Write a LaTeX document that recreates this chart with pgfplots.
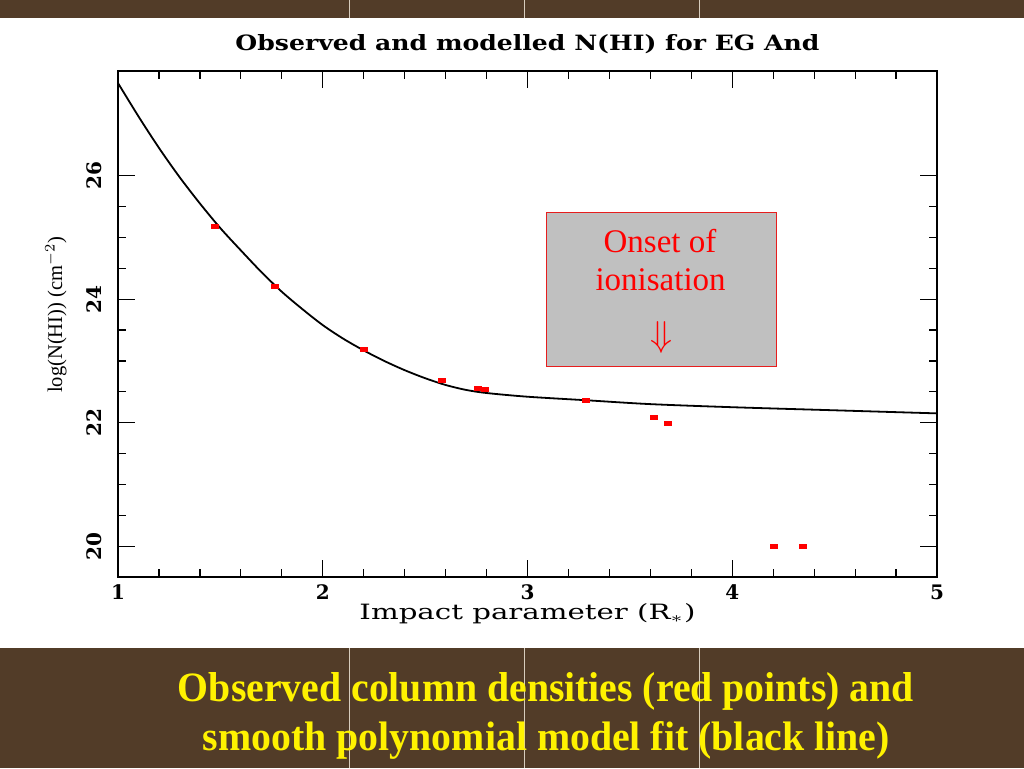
\documentclass[border=0pt]{standalone}
\usepackage{fontspec}
\setmainfont{Liberation Serif}
\newfontfamily\pgfont{DejaVu Serif}
\usepackage{graphicx}
\usepackage{pgfplots}
\pgfplotsset{compat=1.18}
\definecolor{marble}{RGB}{82,60,40}
\definecolor{marbleline}{RGB}{215,205,190}
\definecolor{boxgrey}{RGB}{192,192,192}
\definecolor{boxred}{RGB}{230,30,30}
\pgfdeclareplotmark{rect}{\pgfpathrectangle{\pgfpoint{-2pt}{-1.25pt}}{\pgfpoint{4pt}{2.5pt}}\pgfusepathqfill}
\begin{document}
\begin{tikzpicture}[x=1pt,y=1pt]
\useasboundingbox (0,0) rectangle (512,384);
\fill[white] (0,0) rectangle (512,384);
\fill[marble] (0,375) rectangle (512,384);
\fill[marble] (0,0) rectangle (512,60);
\draw[marbleline, line width=0.5pt] (174.5,0)--(174.5,60) (262,0)--(262,60) (349.5,0)--(349.5,60)
  (174.5,375)--(174.5,384) (262,375)--(262,384) (349.5,375)--(349.5,384);
\begin{axis}[
  at={(59pt,95.5pt)}, anchor=south west,
  scale only axis, width=409.5pt, height=253.15pt,
  xmin=1, xmax=5, ymin=19.5, ymax=27.7,
  xtick={1,2,3,4,5}, minor x tick num=4,
  ytick={20,22,24,26}, minor y tick num=3,
  tick align=inside, xtick pos=both, ytick pos=both,
  major tick length=8.5pt, minor tick length=4pt,
  axis line style={line width=0.8pt},
  every tick/.style={black, line width=0.6pt},
  /pgf/number format/assume math mode=true,
  tick label style={font=\pgfont\bfseries\fontsize{10}{11}\selectfont},
  xticklabel style={anchor=center, yshift=-7.5pt},
  yticklabel style={anchor=center, xshift=-12pt, rotate=90},
  title={\resizebox{292pt}{8pt}{\pgfont\bfseries Observed and modelled N(HI) for EG And}},
  title style={at={(axis description cs:0.5,1)}, anchor=base, yshift=4pt, inner sep=0pt},
  xlabel={\resizebox{168pt}{8pt}{\pgfont Impact parameter (R$_*$)}},
  xlabel style={at={(axis description cs:0.5,0)}, anchor=center, yshift=-18.5pt, inner sep=0pt},
  ylabel={\resizebox{78pt}{8.5pt}{log(N(HI)) (cm$^{-2}$)}},
  ylabel style={at={(axis description cs:0,0.5)}, anchor=center, inner sep=0pt, yshift=31pt, xshift=4.5pt},
  clip=true,
]
\addplot[black, line width=0.9pt, smooth, tension=0.5] table {
x y
1.00 27.50
1.10 26.96
1.20 26.45
1.30 25.98
1.40 25.55
1.50 25.15
1.60 24.79
1.70 24.44
1.80 24.12
1.90 23.84
2.00 23.58
2.10 23.36
2.20 23.17
2.30 23.00
2.40 22.85
2.50 22.72
2.60 22.61
2.70 22.53
2.80 22.48
3.00 22.42
3.30 22.36
3.60 22.30
4.00 22.25
4.50 22.20
5.00 22.15
};
\addplot[only marks, mark=rect, red, mark options={fill=red, draw=none}] table {
x y
1.474 25.18
1.767 24.21
2.201 23.19
2.582 22.69
2.758 22.56
2.792 22.54
3.286 22.36
3.618 22.09
3.686 21.99
4.204 20.00
4.346 20.00
};
\end{axis}
\node[draw=boxred, fill=boxgrey, line width=0.5pt, minimum width=115pt, minimum height=77pt, inner sep=0pt] at (330.5,239.5) {};
\node[text=red, anchor=base, font=\fontsize{16.5}{16.5}\selectfont, inner sep=0pt] at (330,257.7) {Onset of};
\node[text=red, anchor=base, font=\fontsize{16.5}{16.5}\selectfont, inner sep=0pt] at (330.3,239) {ionisation};
\node[text=red, anchor=center, inner sep=0pt] at (330.8,215.5) {\scalebox{1.8}{$\Downarrow$}};
\node[text=yellow, anchor=base, inner sep=0pt] at (273,33.2) {\resizebox{368pt}{14.5pt}{\bfseries Observed column densities (red points) and}};
\node[text=yellow, anchor=base, inner sep=0pt] at (273.2,9) {\resizebox{343.5pt}{14.5pt}{\bfseries smooth polynomial model fit (black line)}};
\end{tikzpicture}
\end{document}
